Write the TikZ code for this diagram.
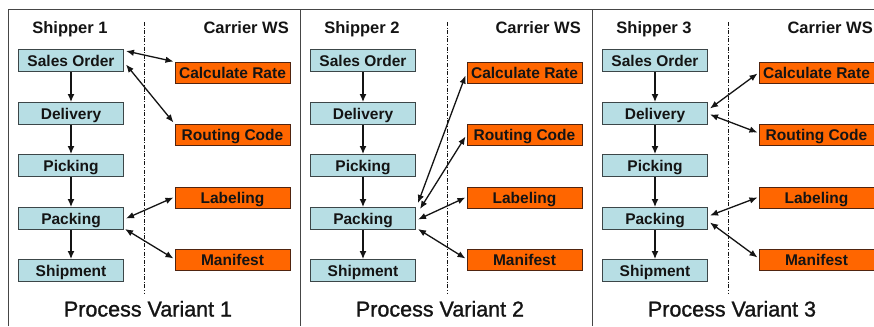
\documentclass[tikz,border=0pt]{standalone}
\usepackage{fontspec}
\setmainfont{Liberation Sans}
\newfontfamily\titlefont[FakeBold=1.2]{Liberation Sans}
\usetikzlibrary{arrows.meta,calc}
\definecolor{boxblue}{RGB}{183,222,228}
\definecolor{blueedge}{RGB}{60,70,72}
\definecolor{boxorange}{RGB}{255,102,0}
\definecolor{orangeedge}{RGB}{80,36,16}
\definecolor{framec}{RGB}{70,70,70}
\definecolor{linec}{RGB}{20,20,20}
\begin{document}
\begin{tikzpicture}[x=1bp,y=-1bp,
  lbox/.style={draw=blueedge, fill=boxblue, line width=1bp, minimum width=105bp,
    minimum height=22bp, inner sep=0pt, text=linec,
    font=\fontsize{15.5bp}{18bp}\selectfont\bfseries, text height=11.1bp, text depth=0pt},
  rbox/.style={lbox, draw=orangeedge, fill=boxorange, minimum width=115bp, minimum height=21bp},
  hdr/.style={inner sep=0pt, text=linec, font=\fontsize{16.5bp}{19bp}\selectfont\bfseries},
  ttl/.style={inner sep=0pt, text=linec, font=\fontsize{21.5bp}{24bp}\selectfont\titlefont},
  flow/.style={-{Latex[length=8bp,width=7bp]}, line width=1.3bp, draw=linec},
  ws/.style={{Latex[length=8bp,width=6.5bp]}-{Latex[length=8bp,width=6.5bp]}, line width=1.3bp, draw=linec},
  divider/.style={line width=0.8bp, draw=linec, dash pattern=on 4bp off 1.6bp on 1bp off 1.6bp},
  frame/.style={line width=1bp, draw=framec}]
\useasboundingbox (0,0) rectangle (874,326);
\fill[white] (0,0) rectangle (874,326);
% frames
\draw[frame] (8,326) -- (8,9) -- (874,9);
\draw[frame] (300,9) -- (300,326);
\draw[frame] (592,9) -- (592,326);
\foreach \p/\L/\D in {1/8/144,2/300/447,3/592/728}{
  \node[hdr, anchor=base] (sh\p) at (\L+62,33.5) {Shipper \p};
  \node[hdr, anchor=base east] (cw\p) at (\L+281,33.5) {Carrier WS};
  \draw[divider] (\D,22) -- (\D,293);
  \node[lbox] (so\p) at (\L+63,60.5) {Sales Order};
  \node[lbox] (dl\p) at (\L+63,113.5) {Delivery};
  \node[lbox] (pi\p) at (\L+63,165.5) {Picking};
  \node[lbox] (pk\p) at (\L+63,218.5) {Packing};
  \node[lbox] (sm\p) at (\L+63,270.5) {Shipment};
  \node[rbox] (cr\p) at (\L+224.5,72.5) {Calculate Rate};
  \node[rbox] (rc\p) at (\L+224.5,134.5) {Routing Code};
  \node[rbox] (lb\p) at (\L+224.5,197.5) {Labeling};
  \node[rbox] (mf\p) at (\L+224.5,259.5) {Manifest};
  \draw[flow] (so\p) -- (dl\p);
  \draw[flow] (dl\p) -- (pi\p);
  \draw[flow] (pi\p) -- (pk\p);
  \draw[flow] (pk\p) -- (sm\p);
  \node[ttl, anchor=base] (pv\p) at (\L+140,316.5) {Process Variant \p};
}
% panel 1
\draw[ws] ($(so1.north east)+(2,2)$) -- ($(cr1.north west)+(-1,0)$);
\draw[ws] ($(so1.east)+(2,4)$) -- ($(rc1.north west)+(-1,-1)$);
\draw[ws] ($(pk1.east)+(2,0)$) -- ($(lb1.west)+(-1,0)$);
\draw[ws] ($(pk1.south east)+(1,-1)$) -- ($(mf1.west)+(-1,-1)$);
% panel 2
\draw[ws] ($(pk2.north east)+(2,-4)$) -- ($(cr2.west)+(-1,3)$);
\draw[ws] ($(pk2.north east)+(4,2)$) -- ($(rc2.west)+(-1,2)$);
\draw[ws] ($(pk2.east)+(2,1)$) -- ($(lb2.west)+(-1,0)$);
\draw[ws] ($(pk2.south east)+(2,-1)$) -- ($(mf2.west)+(-1,-1)$);
% panel 3
\draw[ws] ($(dl3.east)+(2,-5)$) -- ($(cr3.west)+(-1,1)$);
\draw[ws] ($(dl3.east)+(2,1)$) -- ($(rc3.west)+(-1,-2)$);
\draw[ws] ($(pk3.east)+(2,-3)$) -- ($(lb3.west)+(-1,0)$);
\draw[ws] ($(pk3.east)+(2,4)$) -- ($(mf3.west)+(-1,-2)$);
\end{tikzpicture}
\end{document}
